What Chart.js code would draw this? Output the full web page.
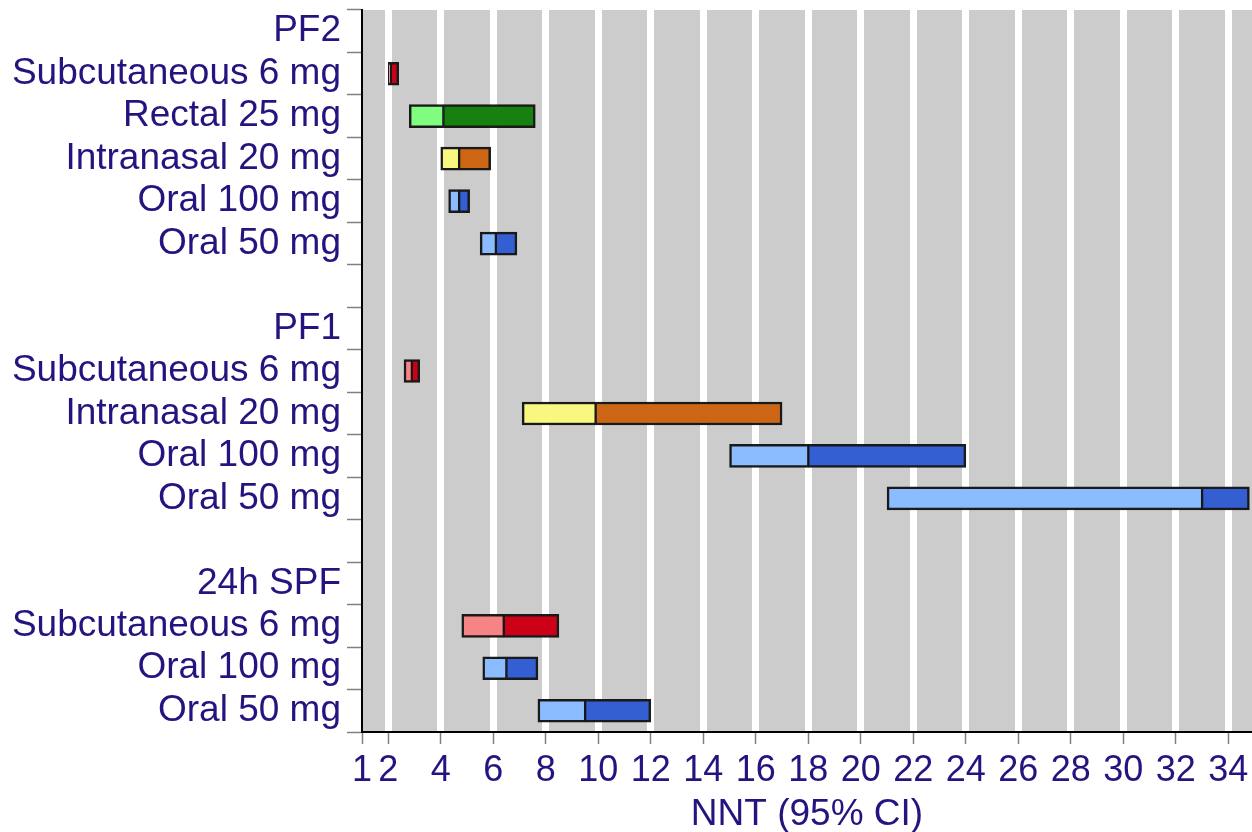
<!DOCTYPE html>
<html>
<head>
<meta charset="utf-8">
<script src="https://cdn.jsdelivr.net/npm/chart.js@4.4.1/dist/chart.umd.min.js"></script>
<style>
    html, body { margin: 0; padding: 0; background: #fff; }
    #wrap { width: 1252px; height: 832px; }
</style>
</head>
<body>
<div id="wrap"><canvas id="nntChart" width="1252" height="832"></canvas></div>
<script>
// rows, top to bottom (empty strings are spacer rows)
const labels = [
    'PF2', 'Subcutaneous 6 mg', 'Rectal 25 mg', 'Intranasal 20 mg', 'Oral 100 mg', 'Oral 50 mg', '',
    'PF1', 'Subcutaneous 6 mg', 'Intranasal 20 mg', 'Oral 100 mg', 'Oral 50 mg', '',
    '24h SPF', 'Subcutaneous 6 mg', 'Oral 100 mg', 'Oral 50 mg'
];
const routes = [
    null, 'sub', 'rect', 'nasal', 'oral', 'oral', null,
    null, 'sub', 'nasal', 'oral', 'oral', null,
    null, 'sub', 'oral', 'oral'
];
// NNT point estimate and 95% CI
const lower = [null, 2.0, 2.8, 4.0, 4.3, 5.5, null, null, 2.6, 7.1, 15.0, 21.0, null, null, 4.8, 5.6, 7.7];
const nnt   = [null, 2.1, 4.1, 4.7, 4.7, 6.1, null, null, 2.9, 9.9, 18.0, 33.0, null, null, 6.4, 6.5, 9.5];
const upper = [null, 2.4, 7.6, 5.9, 5.1, 6.9, null, null, 3.2, 17.0, 24.0, 34.8, null, null, 8.5, 7.7, 12.0];
const xTicks = [1, 2, 4, 6, 8, 10, 12, 14, 16, 18, 20, 22, 24, 26, 28, 30, 32, 34];

const lightColors = { sub: '#f78484', rect: '#80fc80', nasal: '#f8f880', oral: '#8abcff' };
const darkColors  = { sub: '#cc0016', rect: '#168010', nasal: '#cd6614', oral: '#335fd2' };

const textColor = '#24147f';
const fontFamily = '"Liberation Sans", Arial, Helvetica, sans-serif';

const plotBackground = {
    id: 'plotBackground',
    beforeDraw(chart) {
        const { ctx, chartArea } = chart;
        ctx.save();
        ctx.fillStyle = '#cccccc';
        ctx.fillRect(chartArea.left, chartArea.top, chartArea.right - chartArea.left, chartArea.bottom - chartArea.top);
        ctx.restore();
    }
};

const lowPart = labels.map((l, i) => lower[i] === null ? null : [lower[i], nnt[i]]);
const highPart = labels.map((l, i) => upper[i] === null ? null : [nnt[i], upper[i]]);

new Chart(document.getElementById('nntChart'), {
    type: 'bar',
    data: {
        labels: labels,
        datasets: [{
            data: lowPart,
            backgroundColor: routes.map(r => r ? lightColors[r] : 'transparent'),
            borderColor: 'rgba(15, 15, 15, 0.95)',
            borderWidth: { left: 2.5, right: 1.5, top: 2.5, bottom: 2.5 },
            borderSkipped: false,
            barThickness: 23,
            grouped: false
        }, {
            data: highPart,
            backgroundColor: routes.map(r => r ? darkColors[r] : 'transparent'),
            borderColor: 'rgba(15, 15, 15, 0.95)',
            borderWidth: { left: 1.5, right: 2.5, top: 2.5, bottom: 2.5 },
            borderSkipped: false,
            barThickness: 23,
            grouped: false
        }]
    },
    options: {
        indexAxis: 'y',
        responsive: false,
        animation: false,
        layout: { padding: { top: 10, right: 0, bottom: 0, left: 0 } },
        plugins: {
            legend: { display: false },
            tooltip: { enabled: false }
        },
        scales: {
            x: {
                type: 'linear',
                min: 1,
                max: 34.9,
                afterBuildTicks: scale => { scale.ticks = xTicks.map(v => ({ value: v })); },
                afterFit: scale => {
                    scale.height = 100;
                    scale.paddingRight = 0;
                },
                border: { color: '#000', width: 2 },
                grid: {
                    color: c => (c.tick && c.tick.value === 1) ? 'rgba(0,0,0,0)' : '#ffffff',
                    lineWidth: 7,
                    tickColor: '#808080',
                    tickWidth: 1.5,
                    tickLength: 12
                },
                ticks: {
                    autoSkip: false,
                    maxRotation: 0,
                    padding: 5,
                    color: textColor,
                    font: { family: fontFamily, size: 36 }
                },
                title: {
                    display: true,
                    text: 'NNT (95% CI)',
                    color: textColor,
                    padding: { top: 0, bottom: 0 },
                    font: { family: fontFamily, size: 37, lineHeight: 0.95 }
                }
            },
            y: {
                afterFit: scale => {
                    scale.width = 362;
                    scale.paddingTop = 0;
                    scale.paddingBottom = 0;
                },
                border: { color: '#000', width: 2 },
                grid: {
                    drawOnChartArea: false,
                    tickColor: '#808080',
                    tickWidth: 1.5,
                    tickLength: 15
                },
                ticks: {
                    autoSkip: false,
                    padding: 6,
                    color: textColor,
                    font: { family: fontFamily, size: 37 }
                }
            }
        }
    },
    plugins: [plotBackground]
});
</script>
</body>
</html>
